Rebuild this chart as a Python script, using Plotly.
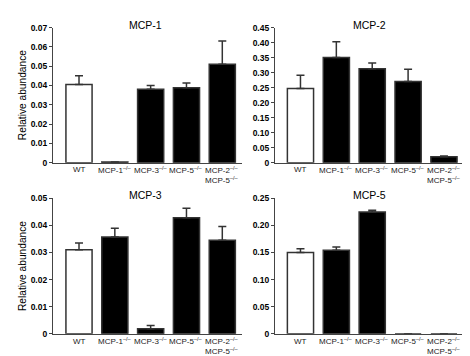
import plotly.graph_objects as go

categories = ["WT", "MCP-1<sup>–/–</sup>", "MCP-3<sup>–/–</sup>", "MCP-5<sup>–/–</sup>",
              "MCP-2<sup>–/–</sup><br>MCP-5<sup>–/–</sup>"]

mcp1_vals = [0.0405, 0.0003, 0.0380, 0.0388, 0.0510]
mcp1_err = [0.0450, 0.0003, 0.0400, 0.0413, 0.0630]
mcp2_vals = [0.247, 0.350, 0.313, 0.270, 0.020]
mcp2_err = [0.291, 0.403, 0.332, 0.311, 0.022]
mcp3_vals = [0.0310, 0.0357, 0.0018, 0.0428, 0.0345]
mcp3_err = [0.0335, 0.0390, 0.0030, 0.0463, 0.0396]
mcp5_vals = [0.150, 0.154, 0.225, 0.0, 0.0]
mcp5_err = [0.157, 0.160, 0.228, 0.0, 0.0]

panels = [
    ("MCP-1", mcp1_vals, mcp1_err, 0.07, 0.01, 2),
    ("MCP-2", mcp2_vals, mcp2_err, 0.45, 0.05, 2),
    ("MCP-3", mcp3_vals, mcp3_err, 0.05, 0.01, 2),
    ("MCP-5", mcp5_vals, mcp5_err, 0.25, 0.05, 2),
]

W, H = 470, 356
xdom_px = [(45, 234), (267, 460), (45, 234), (267, 460)]
ydom_px = [(15, 154), (15, 154), (190.7, 330), (190.7, 330)]
xranges = [(-0.726, 4.55), (-0.71, 4.67), (-0.726, 4.55), (-0.71, 4.67)]

FONT = "Liberation Sans, Arial, sans-serif"
fig = go.Figure()
layout = dict(
    width=W, height=H, margin=dict(l=0, r=0, t=0, b=0),
    paper_bgcolor="white", plot_bgcolor="white", showlegend=False,
    font=dict(family=FONT, color="black"),
)
annotations = []

for i, (title, vals, tops, ymax, step, dec) in enumerate(panels):
    n = i + 1
    xa = "x" if n == 1 else f"x{n}"
    ya = "y" if n == 1 else f"y{n}"
    colors = ["white"] + ["black"] * 4
    fig.add_trace(go.Bar(
        x=list(range(len(categories))), y=vals, xaxis=xa, yaxis=ya,
        width=0.73,
        marker=dict(color=colors, line=dict(color="#333333", width=1.5)),
        error_y=dict(type="data", symmetric=False,
                     array=[t - v for t, v in zip(tops, vals)],
                     arrayminus=[0] * len(vals),
                     color="#333333", thickness=1.5, width=4),
    ))
    x0, x1 = xdom_px[i]
    yt, yb = ydom_px[i]
    nt = int(round(ymax / step))
    tickvals = [k * step for k in range(nt + 1)]
    ticktext = ["0"] + [f"{v:.{dec}f}" for v in tickvals[1:]]
    layout["xaxis" if n == 1 else f"xaxis{n}"] = dict(
        domain=[x0 / W, x1 / W], anchor=ya, range=list(xranges[i]),
        showticklabels=False,
        showline=True, linecolor="#444444", linewidth=1.2, ticks="",
        showgrid=False, zeroline=False,
    )
    layout["yaxis" if n == 1 else f"yaxis{n}"] = dict(
        domain=[1 - yb / H, 1 - yt / H], anchor=xa, range=[0, ymax],
        tickmode="array", tickvals=tickvals, ticktext=ticktext,
        showline=True, linecolor="#444444", linewidth=1.2, ticks="outside",
        ticklen=3, tickcolor="#444444", showgrid=False, zeroline=False,
        tickfont=dict(size=8.5, family=FONT, color="black", weight="bold"),
    )
    # category labels below the x axis, one annotation per text line
    for k, lab in enumerate(categories):
        for j, line in enumerate(lab.split("<br>")):
            annotations.append(dict(
                text=line, x=k, xref=xa, y=1 - (yb + 7.5 + 10 * j) / H, yref="paper",
                showarrow=False, xanchor="center", yanchor="middle",
                font=dict(size=8, family=FONT, color="#222222"),
            ))
    annotations.append(dict(
        text=title, x=(x0 + x1) / 2 / W - 0.004, y=1 - (yt - 3) / H, xref="paper", yref="paper",
        showarrow=False, xanchor="center", yanchor="middle",
        font=dict(size=10.5, family=FONT, color="black"),
    ))
    if i % 2 == 0:
        annotations.append(dict(
            text="Relative abundance", x=14 / W, y=1 - (yt + yb) / 2 / H,
            xref="paper", yref="paper", showarrow=False, textangle=-90,
            xanchor="center", yanchor="middle",
            font=dict(size=10.2, family=FONT, color="black"),
        ))

layout["annotations"] = annotations
fig.update_layout(**layout)
fig.write_html("out.html")
